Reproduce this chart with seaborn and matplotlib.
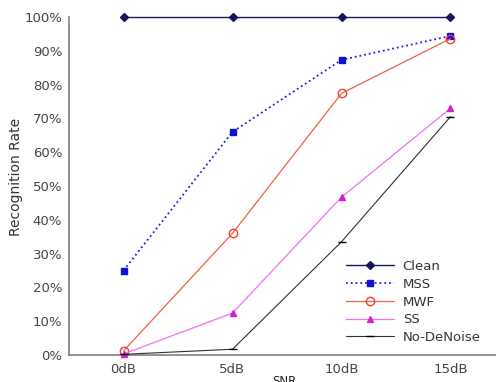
import matplotlib
matplotlib.use("Agg")
import matplotlib.pyplot as plt
import seaborn as sns
import numpy as np
import pandas as pd
from matplotlib.ticker import PercentFormatter, FixedLocator

categories = ["0dB", "5dB", "10dB", "15dB"]
clean = [100, 100, 100, 100]
mss = [25, 66, 87.3, 94.4]
mwf = [1.2, 36, 77.4, 93.6]
ss = [0.3, 12.4, 46.7, 73]
nodenoise = [0.2, 1.7, 33.5, 70.5]

series_names = ["Clean", "MSS", "MWF", "SS", "No-DeNoise"]
series_vals = [clean, mss, mwf, ss, nodenoise]

sns.set_style("white")
plt.rcParams["font.family"] = ["DejaVu Sans"]

fig = plt.figure(figsize=(4.96, 3.82), dpi=100)
ax = fig.add_axes([69/496, 1-355/382, 436/496, (355-17)/382])

styles = {
    "Clean": dict(color="#14145a", linestyle="-", marker="D", ms=4, mfc="#14145a", mec="#14145a", lw=1.0),
    "MSS": dict(color="#2020e0", linestyle=":", marker="s", ms=5, mfc="#1010d0", mec="#1010d0", lw=1.3),
    "MWF": dict(color="#f06048", linestyle="-", marker="o", ms=6, mfc="none", mec="#f04030", lw=0.9),
    "SS": dict(color="#f070f0", linestyle="-", marker="^", ms=5, mfc="#d020d0", mec="#d020d0", lw=0.9),
    "No-DeNoise": dict(color="#303030", linestyle="-", marker="_", ms=6, mfc="black", mec="black", lw=0.8),
}

x = np.arange(len(categories))
for name, vals in zip(series_names, series_vals):
    st = styles[name]
    sns.lineplot(x=x, y=vals, ax=ax, color=st["color"], linestyle=st["linestyle"],
                 marker=st["marker"], markersize=st["ms"], markerfacecolor=st["mfc"],
                 markeredgecolor=st["mec"], markeredgewidth=1.0, linewidth=st["lw"],
                 label=name, clip_on=False, zorder=3)

ax.set_xlim(-0.5, 3.5)
ax.set_ylim(0, 100)
ax.yaxis.set_major_locator(FixedLocator(np.arange(0, 101, 10)))
ax.yaxis.set_major_formatter(PercentFormatter(decimals=0))
ax.set_xticks(x)
ax.set_xticklabels(categories)
ax.set_xticks([0.5, 1.5, 2.5], minor=True)

txtc = "#444444"
ax.tick_params(axis="x", which="major", length=0, labelsize=9.5, colors=txtc, pad=6)
ax.tick_params(axis="x", which="minor", length=4, direction="in", color="#808080", width=1)
ax.tick_params(axis="y", which="major", length=4, direction="in", color="#808080", width=1,
               labelsize=9.5, labelcolor=txtc, pad=5)

for s in ["top", "right"]:
    ax.spines[s].set_visible(False)
for s in ["left", "bottom"]:
    ax.spines[s].set_color("#808080")
    ax.spines[s].set_linewidth(1.2)

ax.set_ylabel("Recognition Rate", fontsize=10, color="#333333", va="center")
ax.yaxis.set_label_coords(-0.1216, 0.527)
ax.set_xlabel("SNR", fontsize=8.5, color="#222222", va="top")
ax.xaxis.set_label_coords(0.495, -0.058)

leg = ax.legend(loc="upper left", bbox_to_anchor=(346/496, 1-260/382), bbox_transform=fig.transFigure,
                frameon=False, fontsize=9.5, handlelength=3.6, labelspacing=0.36,
                handletextpad=0.7, borderaxespad=0, borderpad=0)
for t in leg.get_texts():
    t.set_color("#333333")

fig.savefig("out.png", dpi=100)
